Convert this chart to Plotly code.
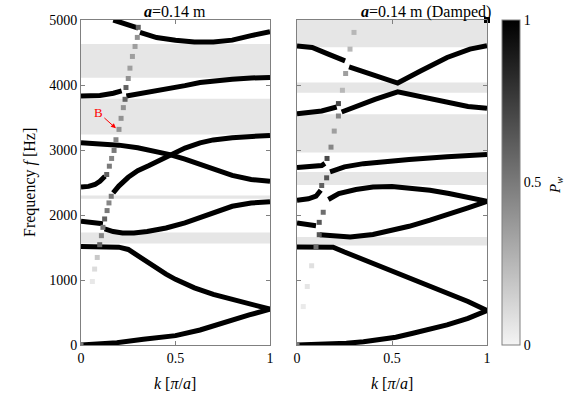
import plotly.graph_objects as go

# ---------------- data ----------------
# Left panel (a = 0.14 m) black branches: k [pi/a], f [Hz]
L1_k = [0, 0.1, 0.19, 0.33, 0.5, 0.63, 0.77, 0.89, 1]
L1_f = [0, 10, 36, 87, 144, 231, 360, 463, 551]
L2_k = [0, 0.1, 0.16, 0.2, 0.25, 0.3, 0.35, 0.4, 0.45, 0.5, 0.6, 0.7, 0.8, 0.9, 1]
L2_f = [1517, 1517, 1515, 1505, 1470, 1370, 1280, 1180, 1090, 1010, 880, 780, 700, 615, 551]
L3a_k = [0, 0.05, 0.1, 0.116]
L3a_f = [1903, 1885, 1862, 1867]
L3b_k = [0.125, 0.17, 0.22, 0.28, 0.35, 0.45, 0.55, 0.63, 0.7, 0.8, 0.9, 1]
L3b_f = [1785, 1745, 1725, 1723, 1745, 1800, 1880, 1955, 2040, 2134, 2185, 2202]
L4a_k = [0, 0.04, 0.074, 0.1, 0.127]
L4a_f = [2430, 2440, 2469, 2520, 2597]
L4b_k = [0.17, 0.2, 0.25, 0.3, 0.36, 0.42, 0.47, 0.55, 0.63, 0.7, 0.8, 0.9, 1]
L4b_f = [2340, 2445, 2580, 2680, 2760, 2850, 2930, 3030, 3110, 3155, 3190, 3215, 3225]
L5_k = [0, 0.1, 0.2, 0.3, 0.4, 0.47, 0.55, 0.63, 0.7, 0.8, 0.9, 1]
L5_f = [3110, 3100, 3075, 3035, 2975, 2930, 2860, 2780, 2705, 2610, 2546, 2520]
L6a_k = [0, 0.1, 0.171, 0.215]
L6a_f = [3832, 3840, 3873, 3909]
L6b_k = [0.24, 0.3, 0.36, 0.45, 0.55, 0.63, 0.7, 0.8, 0.9, 1]
L6b_f = [3832, 3860, 3885, 3935, 3990, 4038, 4065, 4090, 4108, 4115]
L7a_k = [0.171, 0.22, 0.26, 0.303]
L7a_f = [5000, 4955, 4920, 4876]
L7b_k = [0.312, 0.4, 0.5, 0.6, 0.7, 0.8, 0.9, 1]
L7b_f = [4810, 4730, 4690, 4660, 4660, 4690, 4760, 4820]

# Left panel low-P_w branch (grey dots)
LS_k = [0, 0.06, 0.072, 0.086, 0.099, 0.108, 0.116, 0.125, 0.138, 0.148, 0.16,
        0.136, 0.15, 0.162, 0.175, 0.185, 0.201, 0.212, 0.224, 0.233, 0.238,
        0.25, 0.259, 0.272, 0.286, 0.298, 0.303]
LS_f = [0, 977, 1168, 1347, 1543, 1682, 1810, 1939, 2068, 2186, 2288,
        2623, 2751, 2870, 2993, 3158, 3317, 3487, 3652, 3780, 3961,
        4100, 4259, 4439, 4593, 4732, 4887]
LS_p = [0.5, 0.05, 0.1, 0.18, 0.6, 0.45, 0.5, 0.6, 0.5, 0.45, 0.5,
        0.6, 0.5, 0.45, 0.5, 0.45, 0.4, 0.4, 0.4, 0.6, 0.6,
        0.4, 0.35, 0.35, 0.35, 0.4, 0.6]

# Right panel (damped) black branches
R1a_k = [0, 0.08, 0.165, 0.253]
R1a_f = [4600, 4578, 4475, 4372]
R1b_k = [0.274, 0.35, 0.41, 0.53, 0.65, 0.79, 0.91, 1]
R1b_f = [4279, 4200, 4140, 4030, 4215, 4424, 4552, 4603]
R2a_k = [0, 0.13, 0.209]
R2a_f = [3558, 3600, 3662]
R2b_k = [0.235, 0.3, 0.41, 0.53, 0.65, 0.79, 0.9, 1]
R2b_f = [3585, 3660, 3780, 3894, 3820, 3730, 3670, 3642]
R3a_k = [0, 0.08, 0.13, 0.147]
R3a_f = [2730, 2745, 2760, 2793]
R3b_k = [0.174, 0.25, 0.35, 0.45, 0.59, 0.79, 1]
R3b_f = [2665, 2740, 2790, 2825, 2855, 2897, 2932]
R4a_k = [0, 0.06, 0.1, 0.125]
R4a_f = [2227, 2250, 2289, 2380]
R4b_k = [0.165, 0.22, 0.31, 0.4, 0.5, 0.6, 0.7, 0.8, 0.9, 1]
R4b_f = [2238, 2330, 2392, 2430, 2440, 2418, 2380, 2330, 2270, 2211]
R5a_k = [0, 0.05, 0.1]
R5a_f = [1878, 1860, 1836]
R5b_k = [0.12, 0.2, 0.28, 0.4, 0.5, 0.59, 0.7, 0.8, 0.9, 1]
R5b_f = [1697, 1672, 1662, 1700, 1760, 1826, 1920, 2010, 2110, 2211]
R6_k = [0, 0.1, 0.19, 0.25, 0.35, 0.45, 0.61, 0.7, 0.79, 0.9, 1]
R6_f = [1508, 1508, 1505, 1430, 1311, 1190, 1003, 900, 797, 670, 529]
R7_k = [0, 0.15, 0.26, 0.35, 0.44, 0.52, 0.61, 0.7, 0.79, 0.9, 1]
R7_f = [0, 8, 26, 50, 77, 120, 180, 240, 309, 410, 529]
R8_k = [1]
R8_f = [5000]

# Right panel low-P_w branch (grey dots)
RS_k = [0, 0.033, 0.054, 0.077, 0.10, 0.117, 0.117, 0.138, 0.13, 0.156, 0.158,
        0.179, 0.196, 0.218, 0.218, 0.239, 0.256, 0.279, 0.30]
RS_f = [0, 591, 900, 1219, 1508, 1697, 1887, 2042, 2454, 2572, 2870,
        3044, 3291, 3523, 3714, 3919, 4177, 4552, 4809]
RS_p = [0.5, 0.04, 0.06, 0.08, 0.55, 0.65, 0.65, 0.55, 0.6, 0.65, 0.7,
        0.45, 0.35, 0.45, 0.7, 0.25, 0.35, 0.25, 0.25]

# Band gaps [f_low, f_high]
L_gap_lo = [1560, 2250, 3240, 4110]
L_gap_hi = [1730, 2300, 3790, 4630]
R_gap_lo = [1530, 2460, 2960, 3880, 4580]
R_gap_hi = [1660, 2660, 3550, 4040, 5000]

# Tick labels
y_ticks = [0, 1000, 2000, 3000, 4000, 5000]
x_ticks = [0, 0.5, 1]
x_ticklabels = ["0", "0.5", "1"]
cb_ticks = [0, 0.5, 1]
cb_ticklabels = ["0", "0.5", "1"]

# ---------------- figure ----------------
W, H = 585, 396
FONT = "Liberation Serif"
fig = go.Figure()

def black(kk, ff, xa, ya):
    fig.add_trace(go.Scatter(x=kk, y=ff, mode="lines", xaxis=xa, yaxis=ya,
                             line=dict(color="black", width=5),
                             showlegend=False, hoverinfo="skip"))

for kk, ff in [(L1_k, L1_f), (L2_k, L2_f), (L3a_k, L3a_f), (L3b_k, L3b_f),
               (L4a_k, L4a_f), (L4b_k, L4b_f), (L5_k, L5_f), (L6a_k, L6a_f),
               (L6b_k, L6b_f), (L7a_k, L7a_f), (L7b_k, L7b_f)]:
    black(kk, ff, "x", "y")
for kk, ff in [(R1a_k, R1a_f), (R1b_k, R1b_f), (R2a_k, R2a_f), (R2b_k, R2b_f),
               (R3a_k, R3a_f), (R3b_k, R3b_f), (R4a_k, R4a_f), (R4b_k, R4b_f),
               (R5a_k, R5a_f), (R5b_k, R5b_f), (R6_k, R6_f), (R7_k, R7_f)]:
    black(kk, ff, "x2", "y2")

fig.add_trace(go.Scatter(x=R8_k, y=R8_f, mode="markers", xaxis="x2", yaxis="y2",
                         marker=dict(symbol="square", size=6, color="black"),
                         showlegend=False, hoverinfo="skip", cliponaxis=False))

fig.add_trace(go.Scatter(x=LS_k, y=LS_f, mode="markers", xaxis="x", yaxis="y",
                         marker=dict(symbol="square", size=5, color=LS_p,
                                     coloraxis="coloraxis", line=dict(width=0)),
                         showlegend=False, hoverinfo="skip"))
fig.add_trace(go.Scatter(x=RS_k, y=RS_f, mode="markers", xaxis="x2", yaxis="y2",
                         marker=dict(symbol="square", size=5, color=RS_p,
                                     coloraxis="coloraxis", line=dict(width=0)),
                         showlegend=False, hoverinfo="skip"))

shapes = []
for lo, hi in zip(L_gap_lo, L_gap_hi):
    shapes.append(dict(type="rect", xref="x", yref="y", x0=0, x1=1, y0=lo, y1=hi,
                       fillcolor="#e6e6e6", line=dict(width=0), layer="below"))
for lo, hi in zip(R_gap_lo, R_gap_hi):
    shapes.append(dict(type="rect", xref="x2", yref="y2", x0=0, x1=1, y0=lo, y1=hi,
                       fillcolor="#e6e6e6", line=dict(width=0), layer="below"))

ydom = [51 / H, 376 / H]
axis_common = dict(showline=True, linecolor="#808080", linewidth=1, mirror="ticks",
                   ticks="inside", ticklen=4, tickcolor="#808080", showgrid=False,
                   zeroline=False, automargin=False,
                   tickfont=dict(family=FONT, size=14, color="black"))

fig.update_layout(
    template="none",
    width=W, height=H,
    margin=dict(l=0, r=0, t=0, b=0, pad=0, autoexpand=False),
    paper_bgcolor="white", plot_bgcolor="white",
    font=dict(family=FONT, color="black"),
    xaxis=dict(domain=[81 / W, 270 / W], range=[0, 1], tickvals=x_ticks,
               ticktext=x_ticklabels, anchor="y", **axis_common),
    yaxis=dict(domain=ydom, range=[0, 5000], tickvals=y_ticks, anchor="x",
               **axis_common),
    xaxis2=dict(domain=[297 / W, 487 / W], range=[0, 1], tickvals=x_ticks,
                ticktext=x_ticklabels, anchor="y2", **axis_common),
    yaxis2=dict(domain=ydom, range=[0, 5000], tickvals=y_ticks, anchor="x2",
                showticklabels=False, **axis_common),
    coloraxis=dict(cmin=0, cmax=1,
                   colorscale=[[0, "#f4f4f4"], [1, "#000000"]],
                   colorbar=dict(thickness=18, lenmode="pixels", len=325,
                                 x=502 / W, xanchor="left", y=(H - 182.5) / H,
                                 yanchor="middle", outlinecolor="#808080",
                                 outlinewidth=1, tickvals=cb_ticks,
                                 ticktext=cb_ticklabels, ticks="", xpad=0, ypad=0,
                                 tickfont=dict(family=FONT, size=14, color="black"))),
    shapes=shapes,
)

def lab(text, x, y, size=16, angle=0):
    return dict(text=text, x=x / W, y=1 - y / H, xref="paper", yref="paper",
                xanchor="center", yanchor="middle", showarrow=False,
                textangle=angle, font=dict(family=FONT, size=size, color="black"))

ann = [
    lab("<b><i>a</i></b>=0.14 m", 175, 12),
    lab("<b><i>a</i></b>=0.14 m (Damped)", 426, 12),
    lab("<i>k</i> [<i>π</i>/<i>a</i>]", 175, 383),
    lab("<i>k</i> [<i>π</i>/<i>a</i>]", 392, 383),
    lab("Frequency <i>f</i> [Hz]", 30, 183, angle=-90),
    lab("<i>P<sub>w</sub></i>", 556, 186, size=15, angle=-90),
    dict(text="B", x=0.185, y=3333, ax=0.092, ay=3576, xref="x", yref="y",
         axref="x", ayref="y", showarrow=True, arrowhead=2, arrowsize=1,
         arrowwidth=1, arrowcolor="red", standoff=0,
         font=dict(family=FONT, size=13, color="red")),
]
fig.update_layout(annotations=ann)

fig.write_html("out.html", config={"displayModeBar": False},
               post_script="document.body.style.margin='0';"
                           "document.body.style.padding='0';")
